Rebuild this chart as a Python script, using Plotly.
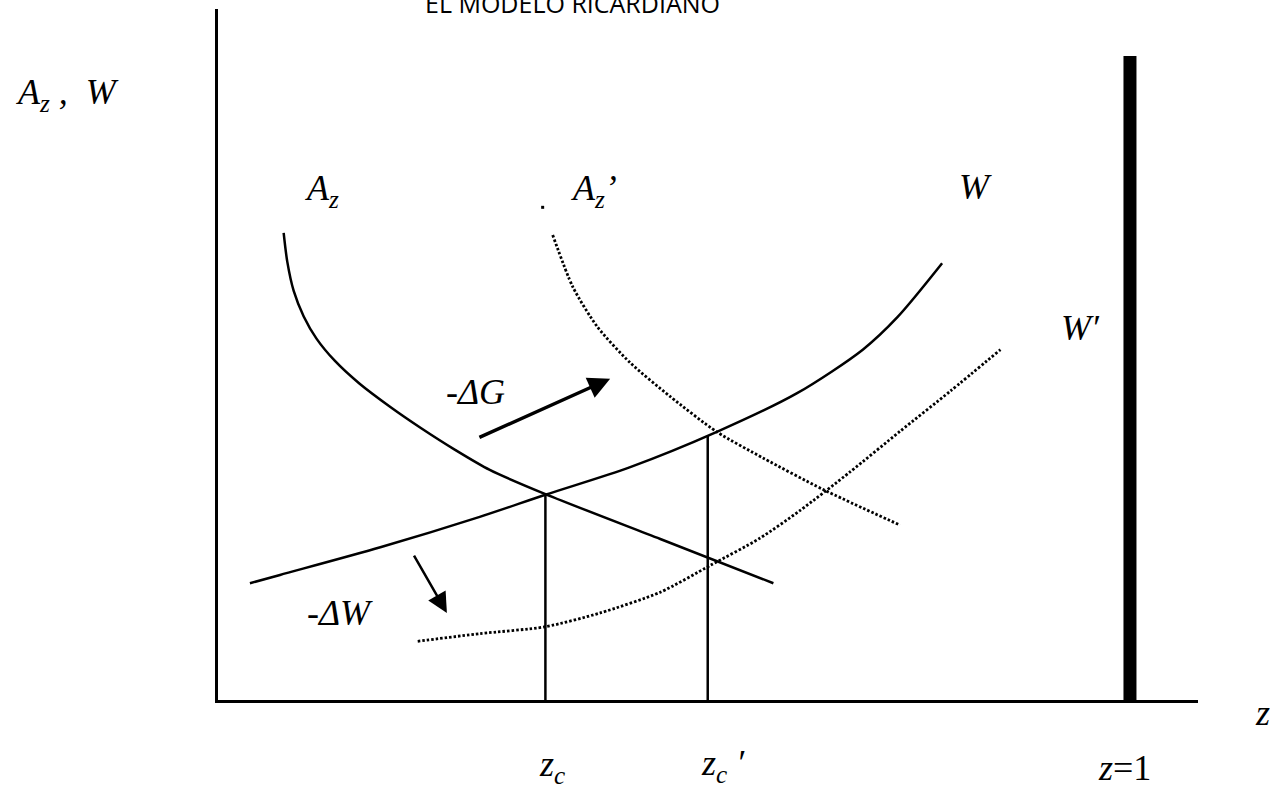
import plotly.graph_objects as go

# horizontal axis in z units (bar at z = 1), vertical scale arbitrary 0..1
az_x = [0.072, 0.076, 0.083, 0.094, 0.108, 0.128, 0.155, 0.189, 0.222, 0.260,
        0.298, 0.359, 0.485, 0.609]
az_y = [0.676, 0.634, 0.592, 0.555, 0.523, 0.491, 0.458, 0.424, 0.394, 0.362,
        0.333, 0.298, 0.233, 0.169]

w_x = [0.035, 0.068, 0.178, 0.287, 0.359, 0.452, 0.547, 0.635, 0.707, 0.745, 0.794]
w_y = [0.169, 0.181, 0.221, 0.265, 0.297, 0.337, 0.388, 0.444, 0.507, 0.554, 0.632]

az2_x = [0.367, 0.389, 0.416, 0.452, 0.496, 0.547, 0.598, 0.663, 0.748]
az2_y = [0.673, 0.598, 0.540, 0.488, 0.439, 0.388, 0.350, 0.305, 0.253]

w2_x = [0.219, 0.287, 0.359, 0.419, 0.485, 0.540, 0.594, 0.638, 0.693, 0.748, 0.803, 0.858]
w2_y = [0.085, 0.096, 0.106, 0.126, 0.156, 0.195, 0.234, 0.274, 0.330, 0.389, 0.447, 0.507]

# equilibria (z_c, z_c') and the z = 1 bound
eq_z = [0.359, 0.537]
eq_y = [0.298, 0.382]
z_max, z_max_top = 1.0, 0.932

# shift arrows: (tail_x, tail_y, head_x, head_y)
arrow_dg = (0.285, 0.379, 0.430, 0.465)
arrow_dw = (0.214, 0.211, 0.251, 0.126)

SERIF = "Liberation Serif"
LABEL_SIZE = 36

fig = go.Figure()

solid = dict(color="black", width=2.5, shape="spline", smoothing=0.8)
dotted = dict(color="black", width=2.8, dash="2.5px,2px", shape="spline", smoothing=0.7)

fig.add_trace(go.Scatter(x=az_x, y=az_y, mode="lines", line=solid))
fig.add_trace(go.Scatter(x=w_x, y=w_y, mode="lines", line=solid))
fig.add_trace(go.Scatter(x=az2_x, y=az2_y, mode="lines", line=dotted))
fig.add_trace(go.Scatter(x=w2_x, y=w2_y, mode="lines", line=dotted))

for z, y in zip(eq_z, eq_y):
    fig.add_trace(go.Scatter(x=[z, z], y=[0, y], mode="lines",
                             line=dict(color="black", width=2.5)))

fig.add_trace(go.Scatter(x=[z_max, z_max], y=[0, z_max_top], mode="lines",
                         line=dict(color="black", width=13)))

# stray dot before the A_z' label
fig.add_trace(go.Scatter(x=[0.356], y=[0.713], mode="markers",
                         marker=dict(color="black", size=3, symbol="square")))

for (tx, ty, hx, hy), w, s in [(arrow_dg, 3.5, 1.25), (arrow_dw, 2.5, 1.6)]:
    fig.add_annotation(x=hx, y=hy, ax=tx, ay=ty, xref="x", yref="y",
                       axref="x", ayref="y", text="", showarrow=True,
                       arrowhead=2, arrowwidth=w, arrowsize=s,
                       arrowcolor="black", standoff=0)

# labels inside the plot (data coords)
inner_labels = [
    ("<i>A<sub>z</sub></i>", 0.114, 0.738),
    ("<i>A<sub>z</sub>\u2019</i>", 0.412, 0.738),
    ("<i>W</i>", 0.831, 0.742),
    ("<i>W\u2032</i>", 0.946, 0.538),
    ("<i>-\u0394G</i>", 0.282, 0.446),
    ("<i>-\u0394W</i>", 0.134, 0.126),
]
for txt, x, y in inner_labels:
    fig.add_annotation(x=x, y=y, xref="x", yref="y", text=txt, showarrow=False,
                       xanchor="center", yanchor="middle",
                       font=dict(family=SERIF, size=LABEL_SIZE, color="black"))

# labels outside the plot (paper coords)
outer_labels = [
    ("<i>A<sub>z</sub>\u00a0,\u00a0\u00a0W</i>", -0.154, 0.876, "center"),
    ("<i>z<sub>c</sub></i>", 0.341, -0.096, "center"),
    ("<i>z<sub>c</sub>\u00a0\u2032</i>", 0.515, -0.095, "center"),
    ("<i>z</i>=1", 0.925, -0.098, "center"),
    ("<i>z</i>", 1.056, -0.019, "left"),
]
for txt, x, y, xa in outer_labels:
    fig.add_annotation(x=x, y=y, xref="paper", yref="paper", text=txt,
                       showarrow=False, xanchor=xa, yanchor="middle",
                       font=dict(family=SERIF, size=LABEL_SIZE, color="black"))

fig.add_annotation(x=0.362, y=1.009, xref="paper", yref="paper",
                   text="EL MODELO RICARDIANO", showarrow=False,
                   xanchor="center", yanchor="middle",
                   font=dict(family="Open Sans", size=25, color="black"))

fig.update_xaxes(range=[0, 1.0746], showline=True, linewidth=3, linecolor="black",
                 showgrid=False, zeroline=False, showticklabels=False, ticks="")
fig.update_yaxes(range=[0, 1], showline=True, linewidth=3, linecolor="black",
                 showgrid=False, zeroline=False, showticklabels=False, ticks="")

fig.update_layout(width=1270, height=788, showlegend=False,
                  plot_bgcolor="white", paper_bgcolor="white",
                  margin=dict(l=218, r=72, t=9, b=88), hovermode=False)

fig.write_html("out.html", config={"displayModeBar": False},
               post_script="document.body.style.margin='0';")
